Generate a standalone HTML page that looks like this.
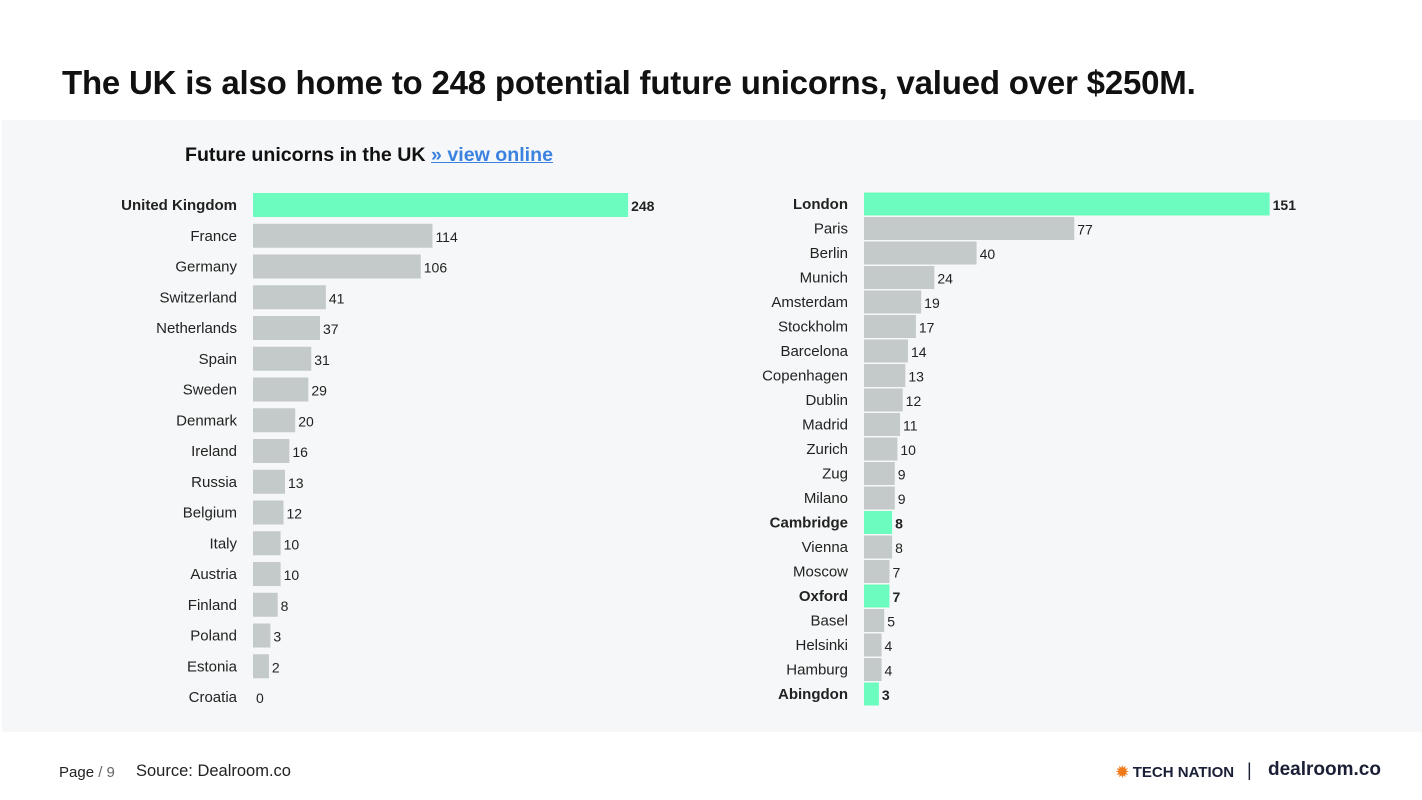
<!DOCTYPE html>
<html><head><meta charset="utf-8"><style>
body{margin:0;width:1422px;height:800px;background:#fff;font-family:"Liberation Sans",sans-serif;overflow:hidden;position:relative}
.t{position:absolute;white-space:nowrap}
</style></head><body>
<div class="t" style="left:62px;top:64px;font-size:33px;font-weight:bold;color:#111;letter-spacing:-0.2px">The UK is also home to 248 potential future unicorns, valued over $250M.</div>
<div style="position:absolute;left:2px;top:120px;width:1420px;height:612px;background:#f6f7f8"></div>
<div class="t" style="left:185px;top:144px;font-size:19.6px;font-weight:bold;color:#111">Future unicorns in the UK <a style="color:#3b82e0;text-decoration:underline">» view online</a></div>
<svg id="c" width="1422" height="800" style="position:absolute;left:0;top:0"></svg>
<div class="t" style="left:59px;top:764px;font-size:15px;color:#222">Page <span style="color:#666">/ 9</span></div>
<div class="t" style="left:136px;top:762px;font-size:16.5px;color:#222">Source: Dealroom.co</div>
<div class="t" style="left:1116px;top:763px;font-size:15px;font-weight:bold;color:#1a1f36"><span style="color:#f07a1a">✹</span> TECH NATION</div>
<div class="t" style="left:1247px;top:760px;font-size:18px;color:#1a1f36">|</div>
<div class="t" style="left:1268px;top:759px;font-size:19px;font-weight:bold;color:#1a1f36">dealroom.co</div>
<script>
const countries=["United Kingdom","France","Germany","Switzerland","Netherlands","Spain","Sweden","Denmark","Ireland","Russia","Belgium","Italy","Austria","Finland","Poland","Estonia","Croatia"];
const countryValues=[248,114,106,41,37,31,29,20,16,13,12,10,10,8,3,2,0];
const countryHighlight=["United Kingdom"];
const cities=["London","Paris","Berlin","Munich","Amsterdam","Stockholm","Barcelona","Copenhagen","Dublin","Madrid","Zurich","Zug","Milano","Cambridge","Vienna","Moscow","Oxford","Basel","Helsinki","Hamburg","Abingdon"];
const cityValues=[151,77,40,24,19,17,14,13,12,11,10,9,9,8,8,7,7,5,4,4,3];
const cityHighlight=["London","Cambridge","Oxford","Abingdon"];
const svg=document.getElementById('c');const NS="http://www.w3.org/2000/svg";
function draw(cats,vals,hl,x0,y0,pitch,bh,scale,off,prefix){
  cats.forEach((c,i)=>{
    const v=vals[i],y=y0+i*pitch,w=v>0?off+v*scale:0,h=hl.includes(c);
    const r=document.createElementNS(NS,'rect');
    r.setAttribute('x',x0);r.setAttribute('y',y-bh/2);r.setAttribute('width',w);r.setAttribute('height',bh);
    r.setAttribute('fill',h?'#6cfcc0':'#c4cac9');
    
    
    svg.appendChild(r);
    const l=document.createElementNS(NS,'text');
    l.setAttribute('x',x0-16);l.setAttribute('y',y+5);l.setAttribute('text-anchor','end');
    l.setAttribute('font-size','15');l.setAttribute('fill','#222');if(h)l.setAttribute('font-weight','bold');
    l.setAttribute('font-family','Liberation Sans, sans-serif');l.textContent=c;
    
    
    svg.appendChild(l);
    const t=document.createElementNS(NS,'text');
    t.setAttribute('x',x0+w+3);t.setAttribute('y',y+6);
    t.setAttribute('font-size','14');t.setAttribute('fill','#222');if(h)t.setAttribute('font-weight','bold');
    t.setAttribute('font-family','Liberation Sans, sans-serif');t.textContent=v;
    
    
    svg.appendChild(t);
  });
}
draw(countries,countryValues,countryHighlight,253,205,30.75,24,1.46,13,'country');
draw(cities,cityValues,cityHighlight,864,204,24.5,23,2.64,7,'city');
</script>
</body></html>
